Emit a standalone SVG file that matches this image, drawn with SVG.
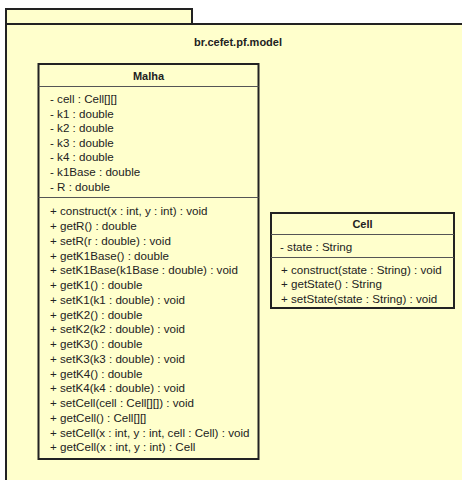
<svg xmlns="http://www.w3.org/2000/svg" width="462" height="480" viewBox="0 0 462 480">
<style>
.pkg{fill:#ffffcc;stroke:#222;stroke-width:2}
.box{fill:#ffffcc;stroke:#222;stroke-width:2}
.div{stroke:#555;stroke-width:1}
text{font-family:"Liberation Sans",Arial,sans-serif;font-size:11.6px;fill:#222}
.b{font-weight:bold;text-anchor:middle;font-size:11px}
</style>
<rect width="462" height="480" fill="#ffffff"/>
<g id="package">
<rect class="pkg" x="6" y="9" width="186" height="15"/>
<rect class="pkg" x="6" y="24" width="470" height="470"/>
<text class="b" x="238" y="46">br.cefet.pf.model</text>
</g>
<g id="Malha">
<rect class="box" x="38.5" y="64" width="220" height="395"/>
<line class="div" x1="38.5" y1="86.5" x2="258.5" y2="86.5"/>
<line class="div" x1="38.5" y1="197.5" x2="258.5" y2="197.5"/>
<text class="b" x="148.5" y="80">Malha</text>
<text x="50" y="103">- cell : Cell[][]</text>
<text x="50" y="117.5">- k1 : double</text>
<text x="50" y="132">- k2 : double</text>
<text x="50" y="146.5">- k3 : double</text>
<text x="50" y="161">- k4 : double</text>
<text x="50" y="176">- k1Base : double</text>
<text x="50" y="190.5">- R : double</text>
<text x="50" y="215">+ construct(x : int, y : int) : void</text>
<text x="50" y="230">+ getR() : double</text>
<text x="50" y="244.75">+ setR(r : double) : void</text>
<text x="50" y="259.5">+ getK1Base() : double</text>
<text x="50" y="274.25">+ setK1Base(k1Base : double) : void</text>
<text x="50" y="289">+ getK1() : double</text>
<text x="50" y="303.75">+ setK1(k1 : double) : void</text>
<text x="50" y="318.5">+ getK2() : double</text>
<text x="50" y="333.25">+ setK2(k2 : double) : void</text>
<text x="50" y="348">+ getK3() : double</text>
<text x="50" y="362.75">+ setK3(k3 : double) : void</text>
<text x="50" y="377.5">+ getK4() : double</text>
<text x="50" y="392.25">+ setK4(k4 : double) : void</text>
<text x="50" y="407">+ setCell(cell : Cell[][]) : void</text>
<text x="50" y="421.75">+ getCell() : Cell[][]</text>
<text x="50" y="436.5">+ setCell(x : int, y : int, cell : Cell) : void</text>
<text x="50" y="451.25">+ getCell(x : int, y : int) : Cell</text>
</g>
<g id="Cell">
<rect class="box" x="271" y="213" width="183" height="95"/>
<line class="div" x1="271" y1="234.5" x2="454" y2="234.5"/>
<line class="div" x1="271" y1="257.5" x2="454" y2="257.5"/>
<text class="b" x="362.5" y="228">Cell</text>
<text x="280" y="251">- state : String</text>
<text x="281" y="274">+ construct(state : String) : void</text>
<text x="281" y="288">+ getState() : String</text>
<text x="281" y="302.5">+ setState(state : String) : void</text>
</g>
<g id="connectors"/>
</svg>
